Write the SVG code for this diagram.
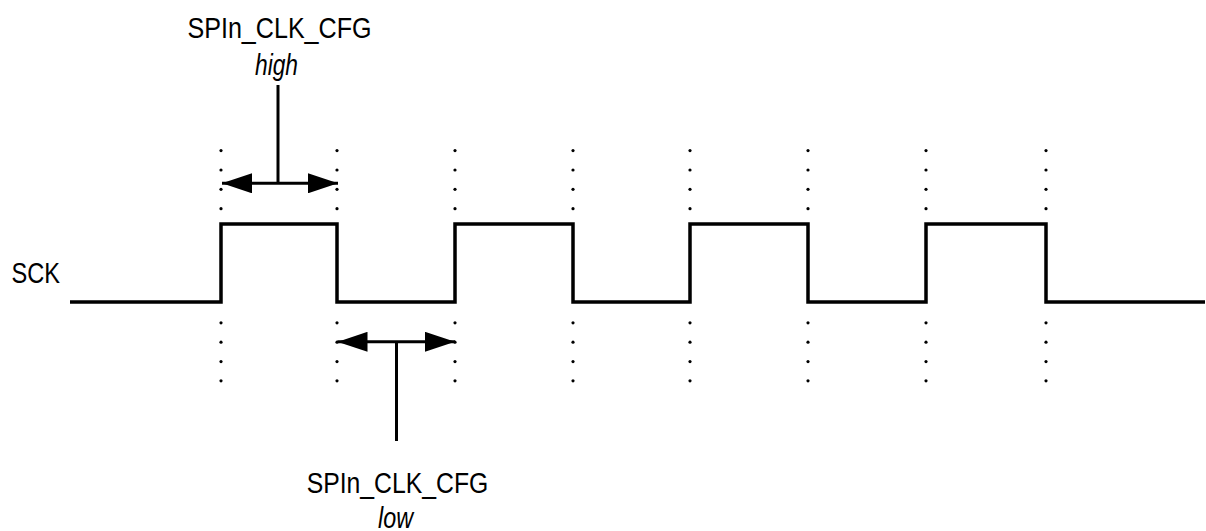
<svg xmlns="http://www.w3.org/2000/svg" width="1206" height="531" viewBox="0 0 1206 531">
<style>
.txt{font-family:"Liberation Sans","Arial",sans-serif;font-size:29px;fill:#000}
.it{font-style:italic}
.wave{fill:none;stroke:#000;stroke-width:3.5;stroke-linejoin:miter;stroke-linecap:butt}
.ln{fill:none;stroke:#000;stroke-width:3}
.dot{fill:#000}
</style>
<defs>
<marker id="ah" viewBox="0 0 30 20" refX="30" refY="10" markerWidth="30" markerHeight="20" markerUnits="userSpaceOnUse" orient="auto-start-reverse">
<path d="M0,0 L30,10 L0,20 Z" fill="#000"/>
</marker>
<g id="dcol">
<circle cx="0" cy="150.6" r="1.6"/>
<circle cx="0" cy="170" r="1.6"/>
<circle cx="0" cy="189.3" r="1.6"/>
<circle cx="0" cy="208.7" r="1.6"/>
<circle cx="0" cy="322.8" r="1.6"/>
<circle cx="0" cy="342.2" r="1.6"/>
<circle cx="0" cy="361.6" r="1.6"/>
<circle cx="0" cy="380.8" r="1.6"/>
</g>
</defs>
<g id="guides" class="dot">
<use href="#dcol" x="221"/>
<use href="#dcol" x="337"/>
<use href="#dcol" x="455"/>
<use href="#dcol" x="573"/>
<use href="#dcol" x="690"/>
<use href="#dcol" x="808"/>
<use href="#dcol" x="926"/>
<use href="#dcol" x="1046"/>
</g>
<g id="sck">
<text class="txt" x="11.5" y="283.3" textLength="48.5" lengthAdjust="spacingAndGlyphs">SCK</text>
<path class="wave" d="M70,302 H221 V224 H337 V302 H455 V224 H573 V302 H690 V224 H808 V302 H926 V224 H1046 V302 H1205"/>
</g>
<g id="label-high">
<text class="txt" x="187.5" y="37.7" textLength="184" lengthAdjust="spacingAndGlyphs">SPIn_CLK_CFG</text>
<text class="txt it" x="255" y="75" textLength="43" lengthAdjust="spacingAndGlyphs">high</text>
</g>
<g id="label-low">
<text class="txt" x="306.7" y="492.7" textLength="181.6" lengthAdjust="spacingAndGlyphs">SPIn_CLK_CFG</text>
<text class="txt it" x="378" y="528" textLength="35" lengthAdjust="spacingAndGlyphs">low</text>
</g>
<g id="connectors">
<line class="ln" x1="222" y1="183.3" x2="338" y2="183.3" marker-start="url(#ah)" marker-end="url(#ah)"/>
<line class="ln" x1="278" y1="85" x2="278" y2="183.3"/>
<line class="ln" x1="337.5" y1="341.8" x2="455" y2="341.8" marker-start="url(#ah)" marker-end="url(#ah)"/>
<line class="ln" x1="396.5" y1="341.8" x2="396.5" y2="441"/>
</g>
</svg>
